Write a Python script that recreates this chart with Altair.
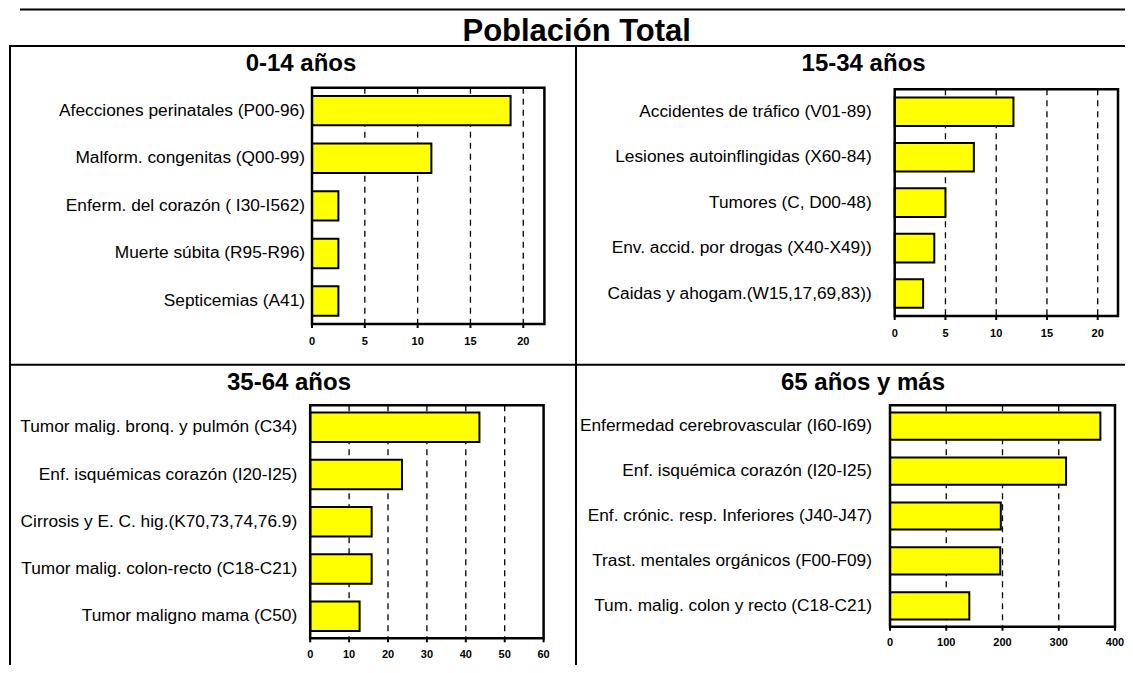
import altair as alt
import pandas as pd

# ---------------- data ----------------
cats_0_14 = ["Afecciones perinatales (P00-96)", "Malform. congenitas (Q00-99)",
             "Enferm. del corazón ( I30-I562)", "Muerte súbita (R95-R96)", "Septicemias (A41)"]
vals_0_14 = [18.8, 11.3, 2.5, 2.5, 2.5]
ticks_0_14 = [0, 5, 10, 15, 20]

cats_15_34 = ["Accidentes de tráfico (V01-89)", "Lesiones autoinflingidas (X60-84)",
              "Tumores (C, D00-48)", "Env. accid. por drogas (X40-X49))",
              "Caidas y ahogam.(W15,17,69,83))"]
vals_15_34 = [11.7, 7.8, 5.0, 3.9, 2.8]
ticks_15_34 = [0, 5, 10, 15, 20]

cats_35_64 = ["Tumor malig. bronq. y pulmón (C34)", "Enf. isquémicas corazón (I20-I25)",
              "Cirrosis y E. C. hig.(K70,73,74,76.9)", "Tumor malig. colon-recto (C18-C21)",
              "Tumor maligno mama (C50)"]
vals_35_64 = [43.5, 23.6, 15.8, 15.8, 12.7]
ticks_35_64 = [0, 10, 20, 30, 40, 50, 60]

cats_65 = ["Enfermedad cerebrovascular (I60-I69)", "Enf. isquémica corazón (I20-I25)",
           "Enf. crónic. resp. Inferiores (J40-J47)", "Trast. mentales orgánicos (F00-F09)",
           "Tum. malig. colon y recto (C18-C21)"]
vals_65 = [374, 313, 197, 196, 141]
ticks_65 = [0, 100, 200, 300, 400]

titles = ["0-14 años", "15-34 años", "35-64 años", "65 años y más"]
main_title = "Población Total"

# ---------------- layout (page pixel coordinates) ----------------
OFF = 8
W, H = 1117, 657
FONT = "Liberation Sans"


def px(v):
    return v - OFF


layout = [
    dict(x0=312, x1=544.4, y0=87.7, y1=324, pin=0.382, pout=0.173, gap=7, ty=342, dmax=22,
         tx=301, tyl=70.7),
    dict(x0=894.7, x1=1118, y0=89.3, y1=316, pin=0.37, pout=0.179, gap=23, ty=333.5, dmax=22,
         tx=863.6, tyl=70.7),
    dict(x0=310.2, x1=543.6, y0=405.3, y1=638.3, pin=0.376, pout=0.153, gap=13, ty=655, dmax=60,
         tx=289, tyl=390),
    dict(x0=890, x1=1115, y0=405.3, y1=626.7, pin=0.393, pout=0.163, gap=18, ty=643.3, dmax=400,
         tx=863, tyl=390),
]

series = [
    (cats_0_14, vals_0_14, ticks_0_14),
    (cats_15_34, vals_15_34, ticks_15_34),
    (cats_35_64, vals_35_64, ticks_35_64),
    (cats_65, vals_65, ticks_65),
]


def panel(cats, vals, ticks, L, title):
    df = pd.DataFrame({"cat": cats, "val": vals})
    tdf = pd.DataFrame({"t": ticks})
    gdf = pd.DataFrame({"t": [t for t in ticks if 0 < t < L["dmax"]]})
    fdf = pd.DataFrame({"a": [0], "b": [L["dmax"]]})
    xs = alt.Scale(domain=[0, L["dmax"]], range=[px(L["x0"]), px(L["x1"])], nice=False, zero=True)
    ys = alt.Scale(domain=cats, range=[px(L["y0"]), px(L["y1"])],
                   paddingInner=L["pin"], paddingOuter=L["pout"])

    grid = alt.Chart(gdf).mark_rule(color="black", strokeWidth=1.3, strokeDash=[6, 5]).encode(
        x=alt.X("t:Q", scale=xs, axis=None),
        y=alt.value(px(L["y0"])), y2=alt.value(px(L["y1"])))
    bars = alt.Chart(df).mark_bar(color="#FFFF00", stroke="black", strokeWidth=2).encode(
        x=alt.X("val:Q", scale=xs, axis=None),
        y=alt.Y("cat:N", scale=ys, axis=None, sort=None))
    frame = alt.Chart(fdf).mark_rect(fill=None, stroke="black", strokeWidth=2.5).encode(
        x=alt.X("a:Q", scale=xs, axis=None), x2="b:Q",
        y=alt.value(px(L["y0"])), y2=alt.value(px(L["y1"])))
    tickmarks = alt.Chart(tdf).mark_rule(color="black", strokeWidth=2).encode(
        x=alt.X("t:Q", scale=xs, axis=None),
        y=alt.value(px(L["y1"])), y2=alt.value(px(L["y1"]) + 4))
    ticklabels = alt.Chart(tdf).mark_text(font=FONT, fontSize=11, fontWeight="bold",
                                          baseline="middle", align="center", color="black").encode(
        x=alt.X("t:Q", scale=xs, axis=None),
        y=alt.value(px(L["ty"])), text="t:Q")
    catlabels = alt.Chart(df).mark_text(font=FONT, fontSize=17.3, align="right",
                                        baseline="middle", color="black").encode(
        x=alt.value(px(L["x0"]) - L["gap"]),
        y=alt.Y("cat:N", scale=ys, axis=None, sort=None), text="cat:N")
    ttl = alt.Chart(pd.DataFrame({"s": [title]})).mark_text(
        font=FONT, fontSize=24, fontWeight="bold", align="center", baseline="alphabetic",
        color="black").encode(x=alt.value(px(L["tx"])), y=alt.value(px(L["tyl"])), text="s:N")
    return alt.layer(grid, bars, frame, tickmarks, ticklabels, catlabels, ttl)


panels = [panel(c, v, t, L, ti) for (c, v, t), L, ti in zip(series, layout, titles)]

# decoration lines (table borders)
one = pd.DataFrame({"k": [0]})


def hline(x0, x1, y, w=2):
    return alt.Chart(one).mark_rule(color="black", strokeWidth=w).encode(
        x=alt.value(x0), x2=alt.value(x1), y=alt.value(y))


def vline(x, y0, y1, w=2):
    return alt.Chart(one).mark_rule(color="black", strokeWidth=w).encode(
        x=alt.value(x), y=alt.value(y0), y2=alt.value(y1))


deco = alt.layer(
    hline(px(20), W, 1.5),
    hline(px(9), W, px(46)),
    vline(px(10), px(46), H),
    vline(px(576), px(46), H),
    hline(px(9), W, px(364.7)),
    alt.Chart(pd.DataFrame({"s": [main_title]})).mark_text(
        font=FONT, fontSize=31, fontWeight="bold", align="center", baseline="alphabetic",
        color="black").encode(x=alt.value(px(576.7)), y=alt.value(px(40.7)), text="s:N"),
)

chart = alt.layer(*panels, deco).resolve_scale(x="independent", y="independent").properties(
    width=W, height=H, autosize=alt.AutoSizeParams(type="none"), padding=0,
    background="white"
).configure_view(stroke=None)

chart.save("out.html", embed_options={"renderer": "svg", "actions": False})
